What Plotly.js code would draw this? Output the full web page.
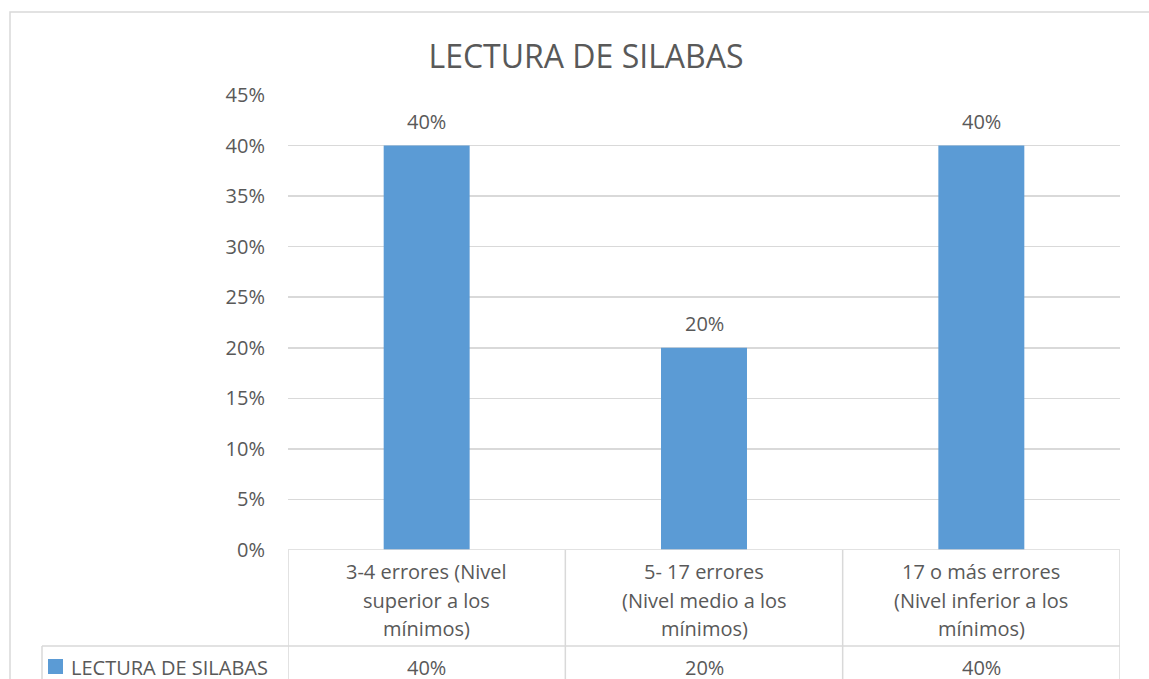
<!DOCTYPE html>
<html>
<head>
<meta charset="utf-8">
<script src="https://cdn.plot.ly/plotly-3.0.1.min.js"></script>
<style>html,body{margin:0;padding:0;background:#fff;}#chart{width:1149px;height:679px;}</style>
</head>
<body>
<div id="chart"></div>
<script>
var chartTitle = "LECTURA DE SILABAS";
var seriesName = "LECTURA DE SILABAS";
var categories = [
  "3-4 errores (Nivel<br>superior a los<br>mínimos)",
  "5- 17 errores<br>(Nivel medio a los<br>mínimos)",
  "17 o más errores<br>(Nivel inferior a los<br>mínimos)"
];
var values = [0.40, 0.20, 0.40];
var yTicks = [0, 0.05, 0.10, 0.15, 0.20, 0.25, 0.30, 0.35, 0.40, 0.45];

var W = 1149, H = 679;
var L = 288, R = 1120, T = 95, B = 550;
var PW = R - L, PH = B - T;
function px(x) { return (x - L) / PW; }
function py(y) { return (B - y) / PH; }

var FONT = "Open Sans, sans-serif";
var TXT = "#595959";
var GRID = "#d9d9d9";
var BAR = "#5b9bd5";
var FS = 20;

function pct(v) { return Math.round(v * 100) + "%"; }

var xs = categories.map(function (c, i) { return i; });

var trace = {
  type: "bar",
  x: xs,
  y: values,
  name: seriesName,
  marker: { color: BAR },
  hoverinfo: "skip"
};

var annotations = [];
var shapes = [];

// data labels above bars
values.forEach(function (v, i) {
  annotations.push({
    x: i, y: v, xref: "x", yref: "y",
    text: pct(v), showarrow: false,
    yanchor: "bottom", yshift: 9,
    font: { family: FONT, size: FS, color: TXT }
  });
});

// category labels in data table
var lineY = [571, 600, 628];
categories.forEach(function (c, i) {
  c.split("<br>").forEach(function (line, j) {
    annotations.push({
      x: i, y: py(lineY[j]), xref: "x", yref: "paper",
      text: line, showarrow: false, yanchor: "middle",
      font: { family: FONT, size: FS, color: TXT }
    });
  });
});

// values row
values.forEach(function (v, i) {
  annotations.push({
    x: i, y: py(667), xref: "x", yref: "paper",
    text: pct(v), showarrow: false, yanchor: "middle", height: 20,
    font: { family: FONT, size: FS, color: TXT }
  });
});

// legend key text
annotations.push({
  x: px(69), y: py(667), xref: "paper", yref: "paper",
  text: seriesName, showarrow: false, xanchor: "left", yanchor: "middle", height: 20,
  font: { family: FONT, size: FS, color: TXT }
});

// legend key square
shapes.push({
  type: "rect", xref: "paper", yref: "paper",
  x0: px(48), x1: px(63), y0: py(659), y1: py(674),
  fillcolor: BAR, line: { width: 0 }
});

// zero line / table top
shapes.push({
  type: "line", xref: "paper", yref: "y",
  x0: 0, x1: 1, y0: 0, y1: 0,
  line: { color: GRID, width: 1.5 }
});

// table vertical lines
[-0.5, 0.5, 1.5, 2.5].forEach(function (xv) {
  shapes.push({
    type: "line", xref: "x", yref: "paper",
    x0: xv, x1: xv, y0: 0, y1: py(700),
    line: { color: GRID, width: 1.5 }
  });
});
// table horizontal line
shapes.push({
  type: "line", xref: "paper", yref: "paper",
  x0: px(42), x1: 1, y0: py(646), y1: py(646),
  line: { color: GRID, width: 1.5 }
});
// legend cell left line
shapes.push({
  type: "line", xref: "paper", yref: "paper",
  x0: px(42), x1: px(42), y0: py(646), y1: py(700),
  line: { color: GRID, width: 1.5 }
});
// outer chart border
shapes.push({
  type: "rect", xref: "paper", yref: "paper",
  x0: px(10), x1: px(1170), y0: py(12), y1: py(700),
  line: { color: GRID, width: 1.5 }, fillcolor: "rgba(0,0,0,0)", layer: "below"
});

var layout = {
  width: W, height: H,
  margin: { l: L, r: W - R, t: T, b: H - B, pad: 0 },
  paper_bgcolor: "#ffffff",
  plot_bgcolor: "#ffffff",
  showlegend: false,
  bargap: 0.69,
  title: {
    text: chartTitle,
    x: 586 / W, xref: "container", xanchor: "center",
    y: 1 - 57 / H, yref: "container", yanchor: "middle",
    font: { family: FONT, size: 32, color: TXT }
  },
  xaxis: {
    range: [-0.5, 2.5],
    showticklabels: false,
    showgrid: false,
    zeroline: false,
    showline: false,
    ticks: "",
    fixedrange: true
  },
  yaxis: {
    range: [0, 0.45],
    tickvals: yTicks,
    ticktext: yTicks.map(pct),
    showgrid: true,
    gridcolor: GRID,
    gridwidth: 1.5,
    zeroline: false,
    showline: false,
    ticks: "",
    ticklabelstandoff: 22,
    tickfont: { family: FONT, size: FS, color: TXT },
    fixedrange: true
  },
  annotations: annotations,
  shapes: shapes
};

Plotly.newPlot("chart", [trace], layout, { displayModeBar: false, staticPlot: true });
</script>
</body>
</html>
